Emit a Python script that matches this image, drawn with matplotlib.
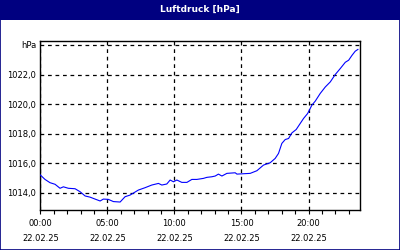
import matplotlib
matplotlib.use("Agg")
import matplotlib.pyplot as plt
from matplotlib.patches import Rectangle
from matplotlib.ticker import MultipleLocator, FixedLocator

# ---- data ----
hours = [0.00, 0.35, 0.72, 1.10, 1.47, 1.72, 2.09, 2.59, 2.96, 3.34, 3.71, 4.08,
         4.46, 4.70, 5.07, 5.45, 5.95, 6.32, 6.69, 7.31, 7.81, 8.31, 8.81, 9.06,
         9.43, 9.68, 9.93, 10.18, 10.55, 10.93, 11.30, 11.67, 12.16, 12.42, 12.79,
         13.04, 13.28, 13.54, 13.91, 14.53, 14.66, 15.65, 16.15, 16.64, 17.14,
         17.51, 17.76, 18.01, 18.26, 18.51, 18.76, 19.08, 19.38, 19.63, 19.93,
         20.25, 20.50, 20.87, 21.25, 21.62, 21.99, 22.36, 22.74, 22.99, 23.24,
         23.48, 23.68]
pressure = [1015.20, 1014.90, 1014.68, 1014.57, 1014.30, 1014.40, 1014.30, 1014.27,
            1014.07, 1013.78, 1013.70, 1013.57, 1013.44, 1013.57, 1013.55, 1013.40,
            1013.37, 1013.73, 1013.84, 1014.18, 1014.34, 1014.52, 1014.63, 1014.52,
            1014.59, 1014.86, 1014.74, 1014.86, 1014.70, 1014.70, 1014.90, 1014.90,
            1014.97, 1015.04, 1015.08, 1015.13, 1015.26, 1015.13, 1015.31, 1015.35,
            1015.26, 1015.31, 1015.49, 1015.87, 1016.03, 1016.32, 1016.66, 1017.34,
            1017.60, 1017.67, 1018.05, 1018.28, 1018.69, 1019.03, 1019.36, 1019.93,
            1020.20, 1020.72, 1021.16, 1021.50, 1022.00, 1022.40, 1022.83, 1022.97,
            1023.30, 1023.58, 1023.70]

x_ticks = [0, 5, 10, 15, 20]
x_tick_labels = ["00:00\n22.02.25", "05:00\n22.02.25", "10:00\n22.02.25",
                 "15:00\n22.02.25", "20:00\n22.02.25"]
y_ticks = [1014, 1016, 1018, 1020, 1022, 1024]
y_tick_labels = ["1014,0", "1016,0", "1018,0", "1020,0", "1022,0", "hPa"]
title = "Luftdruck [hPa]"

navy = "#000080"
fig = plt.figure(figsize=(4, 2.5), dpi=100, facecolor="white")

# title bar
fig.patches.append(Rectangle((0, 0.92), 1, 0.08, transform=fig.transFigure,
                             facecolor=navy, edgecolor="none", zorder=0))
fig.patches.append(Rectangle((0.0012, 0.002), 0.9976, 0.996, transform=fig.transFigure,
                             facecolor="none", edgecolor=navy, linewidth=1.2, zorder=1))
fig.text(0.5, 0.962, title, color="white", fontsize=6.5, fontweight="bold",
         ha="center", va="center")

ax = fig.add_axes([0.1008, 0.1588, 0.8, 0.6772])
ax.set_facecolor("white")
ax.plot(hours, pressure, color="#0000ff", linewidth=0.8, zorder=3)

ax.set_xlim(0, 23.86)
ax.set_ylim(1012.81, 1024.27)

ax.xaxis.set_major_locator(FixedLocator(x_ticks))
ax.set_xticklabels(x_tick_labels)
ax.xaxis.set_minor_locator(MultipleLocator(1))
ax.set_yticks(y_ticks)
ax.set_yticklabels(y_tick_labels)

ax.tick_params(axis="x", which="both", direction="out", length=3, width=0.8,
               labelsize=6, pad=3, colors="black")
ax.tick_params(axis="y", which="both", length=0, labelsize=6, pad=3)
for lbl in ax.get_xticklabels():
    lbl.set_linespacing(1.9)

ax.grid(True, which="major", color="black", linestyle=(0, (3, 3)), linewidth=0.9)
for s in ax.spines.values():
    s.set_color("black")
    s.set_linewidth(1.0)

fig.savefig("out.png", dpi=100, facecolor="white")
